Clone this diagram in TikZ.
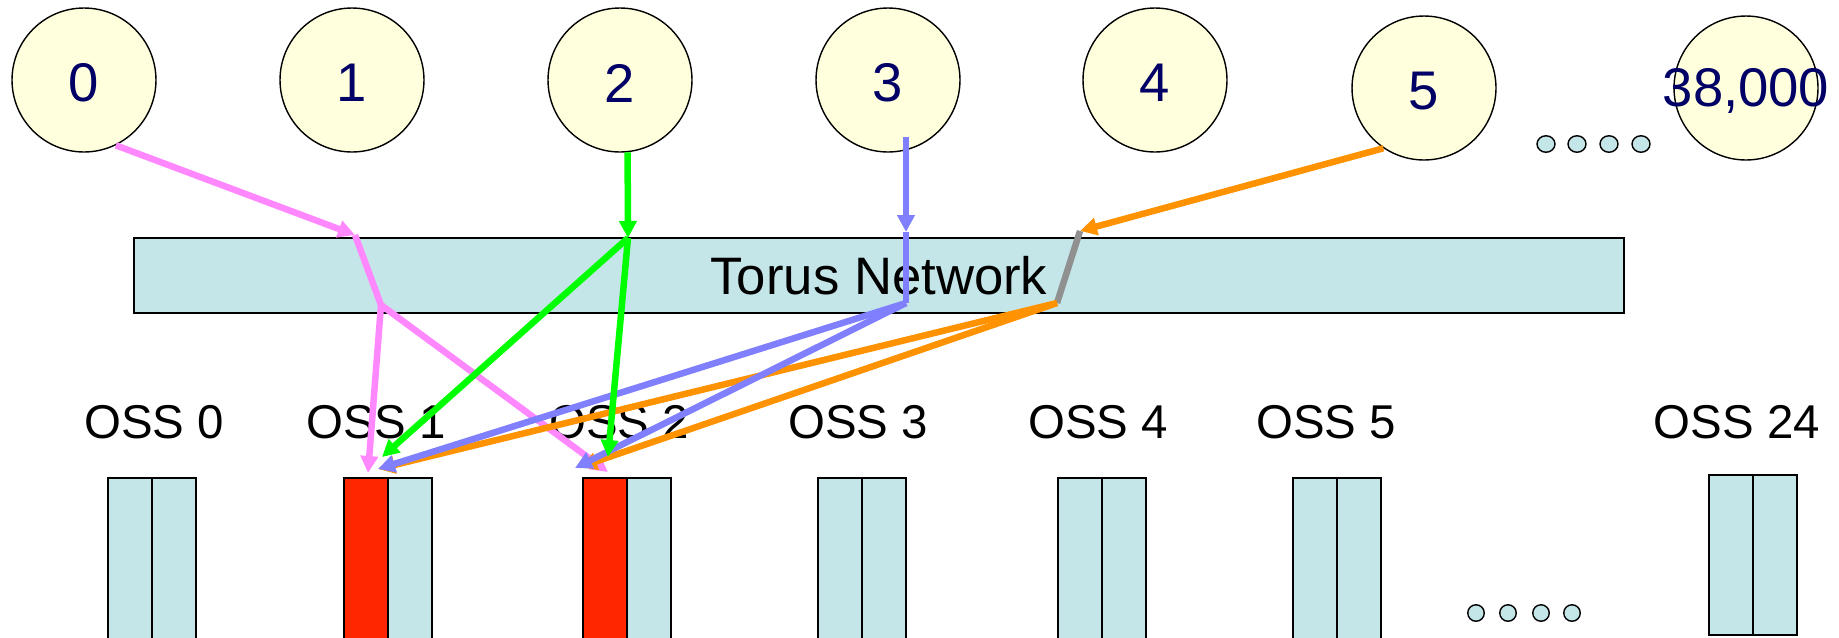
\documentclass[tikz,border=0pt]{standalone}
\usepackage{fontspec}
\setmainfont{Liberation Sans}
\usetikzlibrary{arrows.meta, shapes.geometric}

\definecolor{clientfill}{RGB}{255,255,221}
\definecolor{netfill}{RGB}{196,230,232}
\definecolor{numblue}{RGB}{0,0,102}
\definecolor{ostred}{RGB}{255,38,0}
\definecolor{pinkflow}{RGB}{255,136,255}
\definecolor{greenflow}{RGB}{0,255,0}
\definecolor{blueflow}{RGB}{128,128,255}
\definecolor{orangeflow}{RGB}{255,146,0}
\definecolor{grayflow}{RGB}{144,144,144}

\tikzset{
  client/.style={circle, draw=black, line width=0.8pt, fill=clientfill,
    minimum size=2.88cm, inner sep=0pt},
  clientnum/.style={text=numblue, font=\fontsize{31}{35}\selectfont, inner sep=0pt,
    yshift=-0.06cm},
  network/.style={rectangle, draw=black, line width=1.1pt, fill=netfill,
    minimum width=29.8cm, minimum height=1.5cm, inner sep=0pt,
    font=\fontsize{30}{34}\selectfont},
  ost/.style={rectangle, draw=black, line width=1.1pt, fill=netfill,
    minimum width=0.88cm, minimum height=3.3cm, inner sep=0pt, anchor=north},
  ossname/.style={font=\fontsize{27}{31}\selectfont, anchor=base, inner sep=0pt},
  dotmark/.style={ellipse, draw=black, line width=0.8pt, fill=netfill,
    minimum width=0.36cm, minimum height=0.33cm, inner sep=0pt},
  flow/.style={line width=0.13cm},
  tip/.style={-{Triangle[length=0.34cm,width=0.34cm]}}
}

\begin{document}
\begin{tikzpicture}[x=0.02cm, y=-0.02cm]
    \clip (0,0) rectangle (1839,637);
    %% compute nodes
    \node[client, label={[clientnum]center:0}] (c0) at (84,80) {};
    \node[client, label={[clientnum]center:1}] (c1) at (352,80) {};
    \node[client, label={[clientnum]center:2}] (c2) at (620,80) {};
    \node[client, label={[clientnum]center:3}] (c3) at (888,80) {};
    \node[client, label={[clientnum]center:4}] (c4) at (1155,80) {};
    \node[client, label={[clientnum]center:5}] (c5) at (1424,88) {};
    \node[client, label={[clientnum]center:38,000}] (cn) at (1746,88) {};
    %% dots between clients
    \node[dotmark] (td1) at (1546,144) {};
    \node[dotmark] (td2) at (1577,144) {};
    \node[dotmark] (td3) at (1609,144) {};
    \node[dotmark] (td4) at (1641,144) {};
    %% network
    \node[network] (torus) at (879,275.5) {Torus Network};
    %% OSS labels
    \node[ossname] (l0) at (154,438) {OSS 0};
    \node[ossname] (l1) at (376,438) {OSS 1};
    \node[ossname] (l2) at (619,438) {OSS 2};
    \node[ossname] (l3) at (858,438) {OSS 3};
    \node[ossname] (l4) at (1098,438) {OSS 4};
    \node[ossname] (l5) at (1326,438) {OSS 5};
    \node[ossname] (l24) at (1737,438) {OSS 24};
    %% OSTs
    \node[ost] (s0a) at (130,477) {};
    \node[ost] (s0b) at (174,477) {};
    \node[ost, fill=ostred] (s1a) at (366,477) {};
    \node[ost] (s1b) at (410,477) {};
    \node[ost, fill=ostred] (s2a) at (605,477) {};
    \node[ost] (s2b) at (649,477) {};
    \node[ost] (s3a) at (840,477) {};
    \node[ost] (s3b) at (884,477) {};
    \node[ost] (s4a) at (1080,477) {};
    \node[ost] (s4b) at (1124,477) {};
    \node[ost] (s5a) at (1315,477) {};
    \node[ost] (s5b) at (1359,477) {};
    \node[ost, minimum height=3.2cm] (s24a) at (1731,474) {};
    \node[ost, minimum height=3.2cm] (s24b) at (1775,474) {};
    %% dots between OSS
    \node[dotmark, minimum width=0.33cm] (bd1) at (1476,613) {};
    \node[dotmark, minimum width=0.33cm] (bd2) at (1508,613) {};
    \node[dotmark, minimum width=0.33cm] (bd3) at (1541,613) {};
    \node[dotmark, minimum width=0.33cm] (bd4) at (1572,613) {};
    %% route points
    \coordinate (pA) at (355,235);
    \coordinate (pB) at (381,305);
    \coordinate (gA) at (628,238);
    \coordinate (b0) at (906,137);
    \coordinate (bA) at (906,232);
    \coordinate (bB) at (906,303);
    \coordinate (oA) at (1080,231);
    \coordinate (oB) at (1057,303);
    %% arrow ends at OSTs
    \coordinate (p1) at (368,473);
    \coordinate (p2) at (608,472);
    \coordinate (g1) at (382,457);
    \coordinate (g2) at (608,457);
    \coordinate (b1) at (378,469);
    \coordinate (b2) at (575,468);
    \coordinate (o1) at (378,469);
    \coordinate (o2) at (580,467);
    %%% client 0
    \draw[flow, pinkflow, tip] (c0.-64) -- (pA);
    \draw[flow, pinkflow] (pA) -- (pB);
    \draw[flow, pinkflow, tip] (pB) -- (p1);
    \draw[flow, pinkflow, tip] (pB) -- (p2);
    %%% client 5
    \draw[flow, orangeflow, tip] (c5.-124) -- (oA);
    \draw[flow, grayflow] (oA) -- (oB);
    \draw[flow, orangeflow, tip] (oB) -- (o1);
    \draw[flow, orangeflow, tip] (oB) -- (o2);
    %%% client 3
    \draw[flow, blueflow, tip] (b0) -- (bA);
    \draw[flow, blueflow] (bA) -- (bB);
    \draw[flow, blueflow, tip] (bB) -- (b1);
    \draw[flow, blueflow, tip] (bB) -- (b2);
    %%% client 2
    \draw[flow, greenflow, tip] (c2.-84) -- (gA);
    \draw[flow, greenflow, tip] (gA) -- (g1);
    \draw[flow, greenflow, tip] (gA) -- (g2);
\end{tikzpicture}
\end{document}
